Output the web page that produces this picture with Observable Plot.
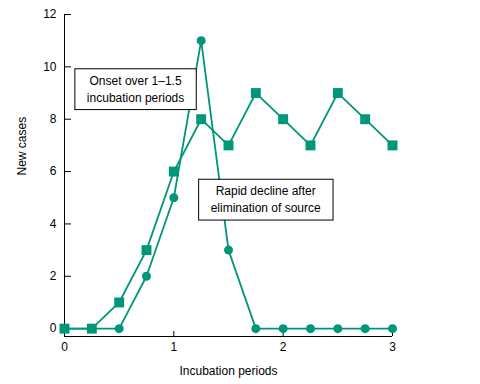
<!DOCTYPE html>
<html>
<head>
<meta charset="utf-8">
<script src="https://cdn.jsdelivr.net/npm/d3@7"></script>
<script src="https://cdn.jsdelivr.net/npm/@observablehq/plot@0.6"></script>
<style>
  html, body { margin: 0; padding: 0; background: #fff; }
  #chart { width: 480px; height: 384px; }
</style>
</head>
<body>
<div id="chart"></div>
<script>
// ---- data ----
const periods = [0, 0.25, 0.5, 0.75, 1, 1.25, 1.5, 1.75, 2, 2.25, 2.5, 2.75, 3];
const pointSourceCases = [0, 0, 0, 2, 5, 11, 3, 0, 0, 0, 0, 0, 0];
const continuingCases = [0, 0, 1, 3, 6, 8, 7, 9, 8, 7, 9, 8, 7];
const xTicks = [0, 1, 2, 3];
const yTicks = [0, 2, 4, 6, 8, 10, 12];
const xDomain = [0, 3];
const yDomain = [-0.3, 12];
const noteTexts = ["Onset over 1\u20131.5\nincubation periods", "Rapid decline after\nelimination of source"];
const noteX = [0.65, 1.84];
const noteY = [9.2, 4.98];
const xTitle = "Incubation periods";
const yTitle = "New cases";

const teal = "#009679";
const font = "'Liberation Sans', Arial, Helvetica, sans-serif";

const pointRows = periods.map((p, i) => ({period: p, cases: pointSourceCases[i]}));
const contRows = periods.map((p, i) => ({period: p, cases: continuingCases[i]}));
const notes = noteTexts.map((t, i) => ({x: noteX[i], y: noteY[i], text: t}));

const chart = Plot.plot({
  width: 480,
  height: 384,
  marginLeft: 64,
  marginRight: 88,
  marginTop: 14,
  marginBottom: 48,
  style: {fontFamily: font, fontSize: "12px", background: "white", color: "black"},
  x: {domain: xDomain, label: null},
  y: {domain: yDomain, label: null},
  marks: [
    Plot.ruleX([xDomain[0]], {stroke: "black", strokeWidth: 1}),
    Plot.ruleY([yDomain[0]], {stroke: "black", strokeWidth: 1}),
    Plot.axisY(yTicks, {tickSize: 7, dx: 7, tickFormat: () => "", label: null}),
    Plot.axisY(yTicks, {tickSize: 0, tickPadding: 8, fontSize: 12, label: null}),
    Plot.axisX(xTicks, {tickSize: 5, dy: -5, tickFormat: () => "", label: null}),
    Plot.axisX(xTicks, {tickSize: 0, tickPadding: 6, fontSize: 12, label: null}),
    Plot.text([xTitle], {frameAnchor: "bottom", dy: 35, fontSize: 12, lineAnchor: "middle", text: d => d}),
    Plot.text([yTitle], {frameAnchor: "left", dx: -42, rotate: -90, fontSize: 12, text: d => d}),
    Plot.line(pointRows, {x: "period", y: "cases", stroke: teal, strokeWidth: 1.8}),
    Plot.line(contRows, {x: "period", y: "cases", stroke: teal, strokeWidth: 1.8}),
    Plot.dot(pointRows, {x: "period", y: "cases", r: 4.5, fill: teal, stroke: "none"}),
    Plot.dot(contRows, {x: "period", y: "cases", r: 5.6, symbol: "square", fill: teal, stroke: "none"}),
    Plot.text(notes, {x: "x", y: "y", text: "text", fontSize: 12, lineHeight: 1.4, fill: "black"})
  ]
});

document.getElementById("chart").appendChild(chart);

// draw white boxes with black border behind annotation texts
const padX = 12, padY = 5;
const noteFlat = noteTexts.map(t => t.replace(/\n/g, ""));
chart.querySelectorAll("text").forEach(t => {
  if (!noteFlat.includes(t.textContent.replace(/\n/g, ""))) return;
  const b = t.getBBox();
  const r = document.createElementNS("http://www.w3.org/2000/svg", "rect");
  r.setAttribute("x", b.x - padX);
  r.setAttribute("y", b.y - padY);
  r.setAttribute("width", b.width + 2 * padX);
  r.setAttribute("height", b.height + 2 * padY);
  r.setAttribute("fill", "white");
  r.setAttribute("stroke", "black");
  r.setAttribute("stroke-width", "1");
  const tr = t.getAttribute("transform");
  if (tr) r.setAttribute("transform", tr);
  t.parentNode.insertBefore(r, t);
});
</script>
</body>
</html>
